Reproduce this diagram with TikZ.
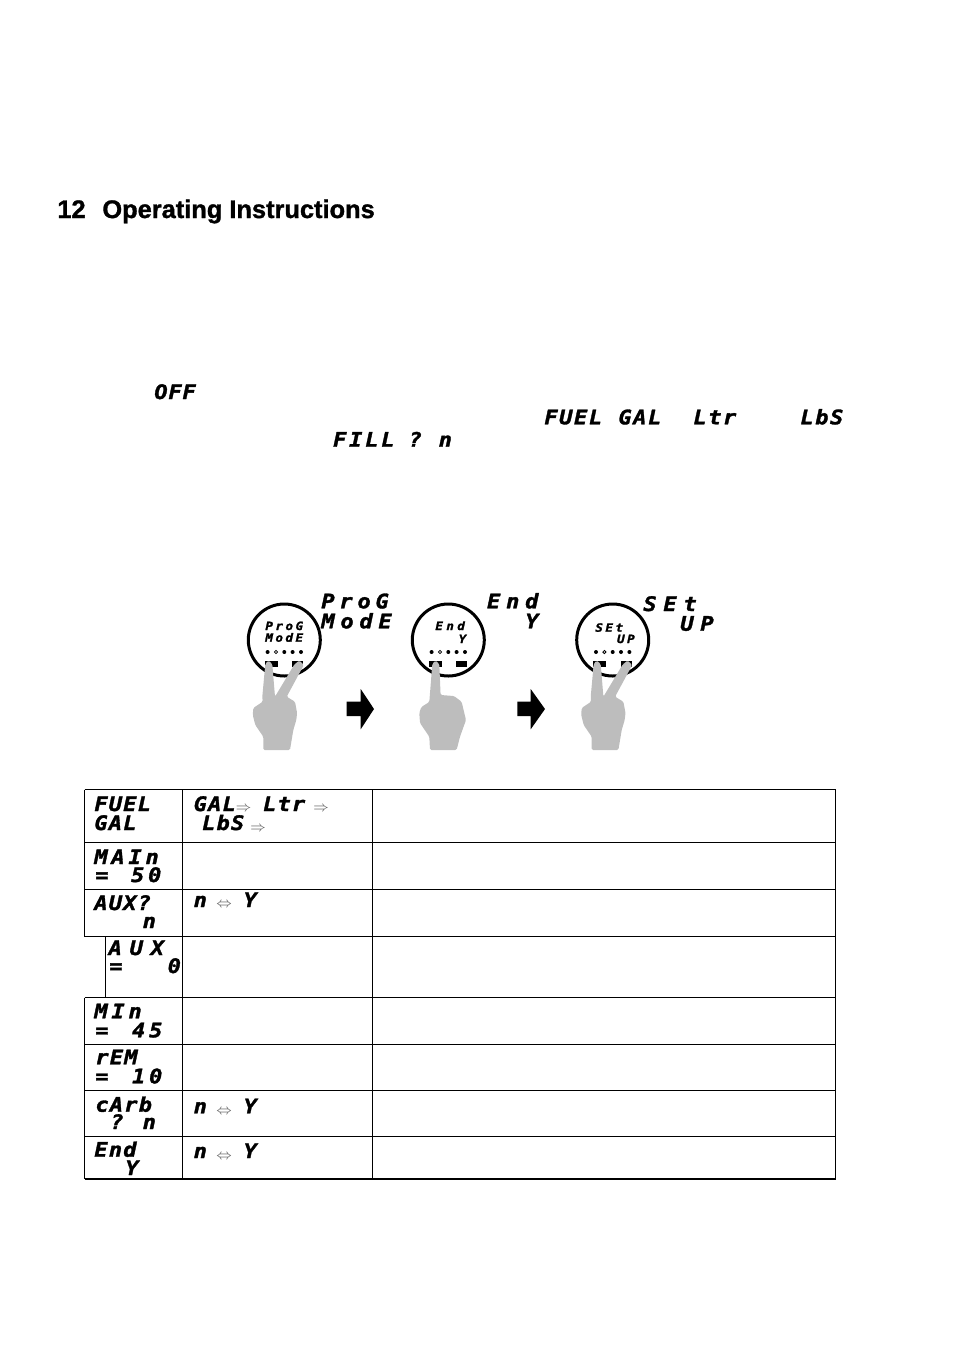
\documentclass[tikz,border=0pt]{standalone}
\usepackage{fontspec}
\newfontfamily\lcdfont[FakeStretch=1.1,FakeBold=1.6]{DejaVu Sans Mono}
\newfontfamily\titlefont[FakeBold=1.2]{Liberation Sans}
\definecolor{handgray}{RGB}{189,189,189}
\tikzset{
  lcd/.style={inner sep=0pt,anchor=base west,font=\lcdfont\bfseries\itshape\fontsize{10}{10}\selectfont\addfontfeature{LetterSpace=#1}},
  lcdmini/.style={inner sep=0pt,anchor=base west,font=\lcdfont\bfseries\itshape\fontsize{5.7}{6}\selectfont\addfontfeature{LetterSpace=#1}},
  flow/.style={inner sep=0pt,text=black!60,font=\scriptsize},
  heading/.style={inner sep=0pt,anchor=base west,font=\titlefont\bfseries\fontsize{12.7}{14}\selectfont},
  rule/.style={line width=.6pt},
}
\begin{document}
\begin{tikzpicture}[x=.5pt,y=-.5pt]
\useasboundingbox (0,0) rectangle (954,1351);

% heading
\node[heading] (numtitle) at (57,218) {12};
\node[heading] (title) at (102,218) {Operating Instructions};

% words in the running text
\node[lcd=4] (off) at (154,399) {OFF};
\node[lcd=8] (fuelw) at (544,424.3) {FUEL};
\node[lcd=8] (galw) at (618,424.3) {GAL};
\node[lcd=8] (ltrw) at (693,424.3) {Ltr};
\node[lcd=8] (lbsw) at (800,424.3) {LbS};
\node[lcd=14] (fillw) at (332.7,446.7) {FILL};
\node[lcd=6] (qw) at (408.3,446.7) {?};
\node[lcd=6] (nw) at (438.3,446.7) {n};

% big labels over the gauges
\node[lcd=24] (prog) at (321,608.3) {ProG};
\node[lcd=29] (mode) at (321,628.3) {ModE};
\node[lcd=29] (end) at (486.7,608.3) {End};
\node[lcd=6] (endy) at (525,628.3) {Y};
\node[lcd=34] (setw) at (643,611) {SEt};
\node[lcd=34] (upw) at (680,630.7) {UP};

% gauges
\foreach \cx in {284.3,448.3,612.7}{
  \draw[line width=1.5pt] (\cx,640) circle[radius=36];
  \foreach \dx in {-16.7,0,8.3,16.7}
    \fill (\cx+\dx,652) circle[radius=2];
  \draw[line width=.4pt] (\cx-8.3,652) circle[radius=1.6];
  \fill (\cx-19.3,661) rectangle (\cx-6.7,667.3);
  \fill (\cx+8,661) rectangle (\cx+19,667.3);
}

\node[lcdmini=22] (minprog) at (265,630) {ProG};
\node[lcdmini=22] (minmode) at (265,641.7) {ModE};
\node[lcdmini=30] (minend) at (435,630) {End};
\node[lcdmini=22] (minendy) at (458.3,643) {Y};
\node[lcdmini=22] (minset) at (595,631.7) {SEt};
\node[lcdmini=22] (minup) at (616.7,643) {UP};

% hands
\foreach \cx in {284.3,612.7}{
  \fill[handgray,shift={(\cx,640)},rounded corners=.7pt]
    (-21.6,61.7)--(-22,56.7)--(-19,24)--(-16,20.5)--(-12,24)--(-9.3,56.7)--(10,24.5)--(15,20.5)--(19.5,25)
    --(2.4,56.7)--(10.7,61.7)--(12.8,73)--(12,80)--(9,90)--(5.7,110)--(-21,110)--(-21,96.7)--(-29,85)
    --(-31.5,75)--(-31,68)--cycle;
}
\fill[handgray,shift={(448.3,640)},rounded corners=.7pt]
  (-19,62)--(-16,24)--(-12.7,20.5)--(-9,24)--(-7.7,55)--(5.7,56)--(13.3,61.7)--(17.7,80)--(11.7,96.7)
  --(8.3,110)--(-18.3,110)--(-19,96.7)--(-28.3,83)--(-29,73)--(-27,67)--cycle;

% block arrows
\fill (346.7,701.7)--(360.7,701.7)--(360.7,689)--(374,709)--(360.7,729.3)--(360.7,716)--(346.7,716)--cycle;
\fill (517.3,701.7)--(530.7,701.7)--(530.7,689)--(545,709)--(530.7,729.3)--(530.7,716)--(517.3,716)--cycle;

% table
\draw[rule] (84.5,789.5)--(835.5,789.5)--(835.5,1179);
\foreach \y in {842.5,889.5,936.5,997.5,1044.5,1090.5,1136.5}
  \draw[rule] (84.5,\y)--(835.5,\y);
\draw[line width=1pt] (84.5,1179)--(835.5,1179);
\draw[rule] (84.5,789.5)--(84.5,936.5);
\draw[rule] (84.5,997.5)--(84.5,1179);
\draw[rule] (105.5,936.5)--(105.5,997.5);
\draw[rule] (182.5,789.5)--(182.5,1179);
\draw[rule] (372.5,789.5)--(372.5,1179);

% row: fuel
\node[lcd=6] (fuel) at (94,811) {FUEL};
\node[lcd=6] (gal) at (94,830) {GAL};
\node[lcd=6] (galopt) at (193.3,811) {GAL};
\node[flow] (aa) at (243.7,808.5) {$\Rightarrow$};
\node[lcd=6] (ltropt) at (262.7,811) {Ltr};
\node[flow] (ab) at (321,808.5) {$\Rightarrow$};
\node[lcd=6] (lbsopt) at (201.7,830) {LbS};
\node[flow] (ac) at (258,829) {$\Rightarrow$};

% row: main
\node[lcd=19] (main) at (94,864) {MAIn};
\node[lcd=6] (mainq) at (95,882) {=};
\node[lcd=19] (mainv) at (130.7,882) {50};

% row: aux?
\node[lcd=6] (auxq) at (94,910) {AUX?};
\node[lcd=6] (auxn) at (142.3,928) {n};
\node[lcd=6] (auxopta) at (193.3,907) {n};
\node[flow] (auxflow) at (224.2,905) {$\Leftrightarrow$};
\node[lcd=6] (auxoptb) at (243.3,907) {Y};

% row: aux
\node[lcd=39] (aux) at (108.3,955) {AUX};
\node[lcd=6] (auxeq) at (109,973) {=};
\node[lcd=6] (auxv) at (167.3,973) {0};

% row: min
\node[lcd=19] (minw) at (94,1018.3) {MIn};
\node[lcd=6] (mineq) at (95,1037.3) {=};
\node[lcd=19] (minv) at (131.7,1037.3) {45};

% row: rem
\node[lcd=6] (rem) at (95,1064.3) {rEM};
\node[lcd=6] (remeq) at (95,1083.3) {=};
\node[lcd=19] (remv) at (131.7,1083.3) {10};

% row: carb
\node[lcd=6] (carb) at (95,1111.7) {cArb};
\node[lcd=6] (carbq) at (110,1129) {?};
\node[lcd=6] (carbn) at (142.3,1129) {n};
\node[lcd=6] (carbopta) at (193.3,1113.3) {n};
\node[flow] (carbflow) at (224.2,1111.7) {$\Leftrightarrow$};
\node[lcd=6] (carboptb) at (243.3,1113.3) {Y};

% row: end
\node[lcd=6] (endw) at (94,1156.7) {End};
\node[lcd=6] (endwy) at (125,1175) {Y};
\node[lcd=6] (endopta) at (193.3,1158) {n};
\node[flow] (endflow) at (224.2,1156.7) {$\Leftrightarrow$};
\node[lcd=6] (endoptb) at (243.3,1158) {Y};

\end{tikzpicture}
\end{document}
